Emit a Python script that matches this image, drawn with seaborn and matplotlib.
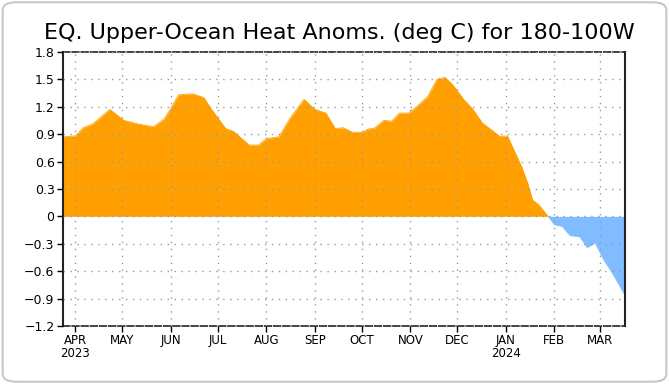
import seaborn as sns
import matplotlib.pyplot as plt
import matplotlib.patches as mpatches
import pandas as pd

# даты (примерно пентады) и аномалии теплосодержания
dates = ['2023-03-24', '2023-04-01', '2023-04-06', '2023-04-12', '2023-04-23',
         '2023-05-02', '2023-05-11', '2023-05-21', '2023-05-28', '2023-06-06',
         '2023-06-15', '2023-06-22', '2023-06-27', '2023-07-06', '2023-07-11',
         '2023-07-21', '2023-07-27', '2023-08-01', '2023-08-09', '2023-08-16',
         '2023-08-25', '2023-09-01', '2023-09-08', '2023-09-14', '2023-09-19',
         '2023-09-25', '2023-10-01', '2023-10-05', '2023-10-09', '2023-10-15',
         '2023-10-20', '2023-10-25', '2023-10-31', '2023-11-05', '2023-11-12',
         '2023-11-18', '2023-11-23', '2023-11-28', '2023-12-05', '2023-12-11',
         '2023-12-17', '2023-12-24', '2023-12-28', '2024-01-02', '2024-01-06',
         '2024-01-11', '2024-01-15', '2024-01-18', '2024-01-22', '2024-01-28',
         '2024-02-01', '2024-02-06', '2024-02-11', '2024-02-17', '2024-02-22',
         '2024-02-27', '2024-03-03', '2024-03-09', '2024-03-17']
anoms = [0.87, 0.88, 0.97, 1.01, 1.17,
         1.05, 1.01, 0.98, 1.07, 1.33,
         1.34, 1.30, 1.17, 0.96, 0.93,
         0.78, 0.78, 0.85, 0.87, 1.07,
         1.28, 1.17, 1.13, 0.96, 0.97,
         0.92, 0.92, 0.955, 0.965, 1.05,
         1.04, 1.13, 1.13, 1.20, 1.31,
         1.50, 1.52, 1.44, 1.28, 1.17,
         1.02, 0.93, 0.875, 0.88, 0.73,
         0.545, 0.36, 0.18, 0.125, 0.0,
         -0.09, -0.11, -0.21, -0.22, -0.34,
         -0.29, -0.46, -0.62, -0.86]

month_ticks = ['2023-04-01', '2023-05-01', '2023-06-01', '2023-07-01', '2023-08-01',
               '2023-09-01', '2023-10-01', '2023-11-01', '2023-12-01', '2024-01-01',
               '2024-02-01', '2024-03-01']
month_labels = ['APR\n2023', 'MAY', 'JUN', 'JUL', 'AUG', 'SEP', 'OCT', 'NOV', 'DEC',
                'JAN\n2024', 'FEB', 'MAR']
y_ticks = [-1.2, -0.9, -0.6, -0.3, 0, 0.3, 0.6, 0.9, 1.2, 1.5, 1.8]
y_labels = ['\u22121.2', '\u22120.9', '\u22120.6', '\u22120.3', '0',
            '0.3', '0.6', '0.9', '1.2', '1.5', '1.8']

df = pd.DataFrame({'date': pd.to_datetime(dates), 'anom': anoms})

sns.set_style('white')
plt.rcParams['font.family'] = ['DejaVu Sans']

fig = plt.figure(figsize=(6.69, 3.84), dpi=100)
ax = fig.add_axes([0.094, 0.151, 0.84, 0.714])

pos_color = '#ffa000'
neg_color = '#80bcff'

ax.fill_between(df['date'], df['anom'], 0, where=df['anom'] >= 0,
                interpolate=True, color=pos_color, linewidth=0, zorder=1)
ax.fill_between(df['date'], df['anom'], 0, where=df['anom'] <= 0,
                interpolate=True, color=neg_color, linewidth=0, zorder=1)
sns.lineplot(data=df[df['anom'] >= 0], x='date', y='anom', color=pos_color,
             linewidth=0.6, ax=ax, zorder=2)
sns.lineplot(data=df[df['anom'] <= 0], x='date', y='anom', color=neg_color,
             linewidth=0.6, ax=ax, zorder=2)

ax.set_xlim(pd.Timestamp('2023-03-24'), pd.Timestamp('2024-03-17'))
ax.set_ylim(-1.2, 1.8)
ax.set_yticks(y_ticks)
ax.set_yticklabels(y_labels, fontsize=9)
ax.set_xticks(pd.to_datetime(month_ticks))
ax.set_xticklabels(month_labels, fontsize=8.5, linespacing=0.95)
ax.set_xlabel('')
ax.set_ylabel('')

# пунктирная сетка поверх заливки
ax.grid(True, linestyle=(0, (1, 4)), color='#999999', linewidth=1.0, zorder=3)
ax.set_axisbelow(False)

ax.tick_params(axis='both', direction='out', length=4, width=1, color='black', pad=2,
               left=True, bottom=True, labelcolor='black')

for side in ['left', 'right']:
    ax.spines[side].set_color('#222222')
    ax.spines[side].set_linewidth(1.5)
for side in ['top', 'bottom']:
    ax.spines[side].set_color('#222222')
    ax.spines[side].set_linewidth(1.2)
    ax.spines[side].set_linestyle((0, (4, 1.5)))

fig.text(0.507, 0.898, 'EQ. Upper-Ocean Heat Anoms. (deg C) for 180-100W',
         ha='center', va='baseline', fontsize=16, color='black')

# рамка скриншота
fig.patches.append(mpatches.FancyBboxPatch((0.004, 0.006), 0.992, 0.988,
                                           boxstyle='round,pad=0,rounding_size=0.02',
                                           transform=fig.transFigure, fc='none',
                                           ec='#c8c8c8', lw=1.5))

fig.savefig('out.png', dpi=100)
